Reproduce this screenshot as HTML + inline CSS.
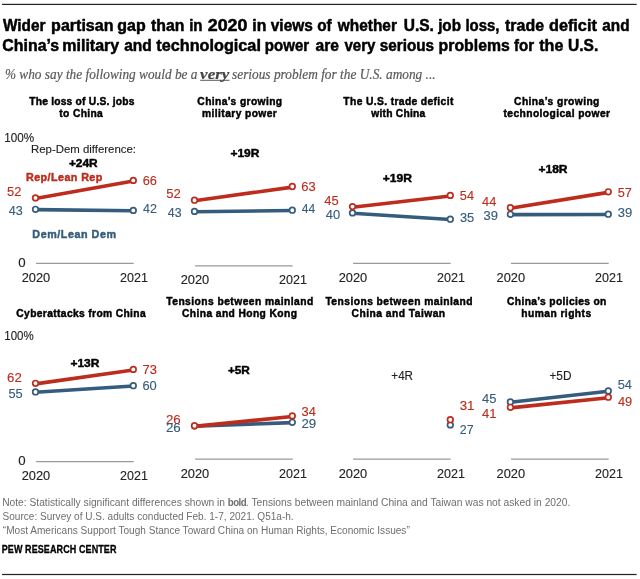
<!DOCTYPE html>
<html><head><meta charset="utf-8"><style>html,body{margin:0;padding:0;background:#fff;width:640px;height:579px;overflow:hidden}svg{display:block;will-change:transform}</style></head>
<body><svg width="640" height="579" viewBox="0 0 640 579">
<rect width="640" height="579" fill="#ffffff"/>
<rect x="2" y="3.8" width="634.6" height="1.2" fill="#222222"/>
<rect x="2" y="573.9" width="634.6" height="1.2" fill="#222222"/>
<rect x="200.2" y="79.8" width="29.4" height="0.9" fill="#444444"/>
<line x1="36.1" y1="263.3" x2="133.70000000000002" y2="263.3" stroke="#9a9a9a" stroke-width="1.2"/>
<line x1="195.1" y1="265.9" x2="292.7" y2="265.9" stroke="#9a9a9a" stroke-width="1.2"/>
<line x1="353.1" y1="263.3" x2="450.7" y2="263.3" stroke="#9a9a9a" stroke-width="1.2"/>
<line x1="511.0" y1="263.3" x2="608.6999999999999" y2="263.3" stroke="#9a9a9a" stroke-width="1.2"/>
<line x1="36.1" y1="461.6" x2="133.70000000000002" y2="461.6" stroke="#9a9a9a" stroke-width="1.2"/>
<line x1="195.1" y1="459.1" x2="292.7" y2="459.1" stroke="#9a9a9a" stroke-width="1.2"/>
<line x1="353.1" y1="459.1" x2="450.7" y2="459.1" stroke="#9a9a9a" stroke-width="1.2"/>
<line x1="511.0" y1="459.1" x2="608.6999999999999" y2="459.1" stroke="#9a9a9a" stroke-width="1.2"/>
<line x1="35.5" y1="209.60" x2="133.3" y2="210.70" stroke="#355c7d" stroke-width="3.6"/>
<circle cx="35.5" cy="209.3" r="2.8" fill="#ffffff" stroke="#355c7d" stroke-width="1.7"/>
<circle cx="133.3" cy="210.4" r="2.8" fill="#ffffff" stroke="#355c7d" stroke-width="1.7"/>
<line x1="35.5" y1="198.50" x2="133.3" y2="181.00" stroke="#bd2c1c" stroke-width="3.6"/>
<circle cx="35.5" cy="197.9" r="2.8" fill="#ffffff" stroke="#bd2c1c" stroke-width="1.7"/>
<circle cx="133.3" cy="180.4" r="2.8" fill="#ffffff" stroke="#bd2c1c" stroke-width="1.7"/>
<line x1="194.5" y1="211.70" x2="292.3" y2="210.50" stroke="#355c7d" stroke-width="3.6"/>
<circle cx="194.5" cy="211.4" r="2.8" fill="#ffffff" stroke="#355c7d" stroke-width="1.7"/>
<circle cx="292.3" cy="210.2" r="2.8" fill="#ffffff" stroke="#355c7d" stroke-width="1.7"/>
<line x1="194.5" y1="200.80" x2="292.3" y2="187.10" stroke="#bd2c1c" stroke-width="3.6"/>
<circle cx="194.5" cy="200.2" r="2.8" fill="#ffffff" stroke="#bd2c1c" stroke-width="1.7"/>
<circle cx="292.3" cy="186.5" r="2.8" fill="#ffffff" stroke="#bd2c1c" stroke-width="1.7"/>
<line x1="352.5" y1="213.20" x2="450.3" y2="219.50" stroke="#355c7d" stroke-width="3.6"/>
<circle cx="352.5" cy="212.9" r="2.8" fill="#ffffff" stroke="#355c7d" stroke-width="1.7"/>
<circle cx="450.3" cy="219.2" r="2.8" fill="#ffffff" stroke="#355c7d" stroke-width="1.7"/>
<line x1="352.5" y1="207.20" x2="450.3" y2="196.00" stroke="#bd2c1c" stroke-width="3.6"/>
<circle cx="352.5" cy="206.6" r="2.8" fill="#ffffff" stroke="#bd2c1c" stroke-width="1.7"/>
<circle cx="450.3" cy="195.4" r="2.8" fill="#ffffff" stroke="#bd2c1c" stroke-width="1.7"/>
<line x1="510.4" y1="214.60" x2="608.3" y2="214.50" stroke="#355c7d" stroke-width="3.6"/>
<circle cx="510.4" cy="214.3" r="2.8" fill="#ffffff" stroke="#355c7d" stroke-width="1.7"/>
<circle cx="608.3" cy="214.2" r="2.8" fill="#ffffff" stroke="#355c7d" stroke-width="1.7"/>
<line x1="510.4" y1="208.30" x2="608.3" y2="192.40" stroke="#bd2c1c" stroke-width="3.6"/>
<circle cx="510.4" cy="207.7" r="2.8" fill="#ffffff" stroke="#bd2c1c" stroke-width="1.7"/>
<circle cx="608.3" cy="191.8" r="2.8" fill="#ffffff" stroke="#bd2c1c" stroke-width="1.7"/>
<line x1="35.5" y1="392.25" x2="133.3" y2="386.00" stroke="#355c7d" stroke-width="3.6"/>
<circle cx="35.5" cy="391.95" r="2.8" fill="#ffffff" stroke="#355c7d" stroke-width="1.7"/>
<circle cx="133.3" cy="385.7" r="2.8" fill="#ffffff" stroke="#355c7d" stroke-width="1.7"/>
<line x1="35.5" y1="383.90" x2="133.3" y2="370.00" stroke="#bd2c1c" stroke-width="3.6"/>
<circle cx="35.5" cy="383.3" r="2.8" fill="#ffffff" stroke="#bd2c1c" stroke-width="1.7"/>
<circle cx="133.3" cy="369.4" r="2.8" fill="#ffffff" stroke="#bd2c1c" stroke-width="1.7"/>
<line x1="194.5" y1="426.10" x2="292.3" y2="422.60" stroke="#355c7d" stroke-width="3.6"/>
<circle cx="194.5" cy="425.8" r="2.8" fill="#ffffff" stroke="#355c7d" stroke-width="1.7"/>
<circle cx="292.3" cy="422.3" r="2.8" fill="#ffffff" stroke="#355c7d" stroke-width="1.7"/>
<line x1="194.5" y1="426.40" x2="292.3" y2="416.50" stroke="#bd2c1c" stroke-width="3.6"/>
<circle cx="194.5" cy="425.8" r="2.8" fill="#ffffff" stroke="#bd2c1c" stroke-width="1.7"/>
<circle cx="292.3" cy="415.9" r="2.8" fill="#ffffff" stroke="#bd2c1c" stroke-width="1.7"/>
<circle cx="450.3" cy="424.9" r="2.8" fill="#ffffff" stroke="#355c7d" stroke-width="1.7"/>
<circle cx="450.3" cy="419.7" r="2.8" fill="#ffffff" stroke="#bd2c1c" stroke-width="1.7"/>
<line x1="510.4" y1="402.25" x2="608.3" y2="391.30" stroke="#355c7d" stroke-width="3.6"/>
<circle cx="510.4" cy="401.95" r="2.8" fill="#ffffff" stroke="#355c7d" stroke-width="1.7"/>
<circle cx="608.3" cy="391.0" r="2.8" fill="#ffffff" stroke="#355c7d" stroke-width="1.7"/>
<line x1="510.4" y1="407.90" x2="608.3" y2="397.80" stroke="#bd2c1c" stroke-width="3.6"/>
<circle cx="510.4" cy="407.3" r="2.8" fill="#ffffff" stroke="#bd2c1c" stroke-width="1.7"/>
<circle cx="608.3" cy="397.2" r="2.8" fill="#ffffff" stroke="#bd2c1c" stroke-width="1.7"/>
<text x="2.98" y="30.60" textLength="42.60" lengthAdjust="spacingAndGlyphs" style="font-family:'Liberation Sans';font-size:16.5px;font-weight:bold;font-style:normal;fill:#000000;stroke:#000000;stroke-width:0.5px;stroke-linejoin:round">Wider</text>
<text x="51.09" y="30.60" textLength="62.40" lengthAdjust="spacingAndGlyphs" style="font-family:'Liberation Sans';font-size:16.5px;font-weight:bold;font-style:normal;fill:#000000;stroke:#000000;stroke-width:0.5px;stroke-linejoin:round">partisan</text>
<text x="117.35" y="30.60" textLength="28.31" lengthAdjust="spacingAndGlyphs" style="font-family:'Liberation Sans';font-size:16.5px;font-weight:bold;font-style:normal;fill:#000000;stroke:#000000;stroke-width:0.5px;stroke-linejoin:round">gap</text>
<text x="151.06" y="30.60" textLength="33.43" lengthAdjust="spacingAndGlyphs" style="font-family:'Liberation Sans';font-size:16.5px;font-weight:bold;font-style:normal;fill:#000000;stroke:#000000;stroke-width:0.5px;stroke-linejoin:round">than</text>
<text x="189.20" y="30.60" textLength="13.39" lengthAdjust="spacingAndGlyphs" style="font-family:'Liberation Sans';font-size:16.5px;font-weight:bold;font-style:normal;fill:#000000;stroke:#000000;stroke-width:0.5px;stroke-linejoin:round">in</text>
<text x="207.73" y="30.60" textLength="39.65" lengthAdjust="spacingAndGlyphs" style="font-family:'Liberation Sans';font-size:16.5px;font-weight:bold;font-style:normal;fill:#000000;stroke:#000000;stroke-width:0.5px;stroke-linejoin:round">2020</text>
<text x="252.24" y="30.60" textLength="14.09" lengthAdjust="spacingAndGlyphs" style="font-family:'Liberation Sans';font-size:16.5px;font-weight:bold;font-style:normal;fill:#000000;stroke:#000000;stroke-width:0.5px;stroke-linejoin:round">in</text>
<text x="270.79" y="30.60" textLength="42.09" lengthAdjust="spacingAndGlyphs" style="font-family:'Liberation Sans';font-size:16.5px;font-weight:bold;font-style:normal;fill:#000000;stroke:#000000;stroke-width:0.5px;stroke-linejoin:round">views</text>
<text x="317.15" y="30.60" textLength="14.47" lengthAdjust="spacingAndGlyphs" style="font-family:'Liberation Sans';font-size:16.5px;font-weight:bold;font-style:normal;fill:#000000;stroke:#000000;stroke-width:0.5px;stroke-linejoin:round">of</text>
<text x="337.80" y="30.60" textLength="59.09" lengthAdjust="spacingAndGlyphs" style="font-family:'Liberation Sans';font-size:16.5px;font-weight:bold;font-style:normal;fill:#000000;stroke:#000000;stroke-width:0.5px;stroke-linejoin:round">whether</text>
<text x="403.72" y="30.60" textLength="30.20" lengthAdjust="spacingAndGlyphs" style="font-family:'Liberation Sans';font-size:16.5px;font-weight:bold;font-style:normal;fill:#000000;stroke:#000000;stroke-width:0.5px;stroke-linejoin:round">U.S.</text>
<text x="438.14" y="30.60" textLength="22.84" lengthAdjust="spacingAndGlyphs" style="font-family:'Liberation Sans';font-size:16.5px;font-weight:bold;font-style:normal;fill:#000000;stroke:#000000;stroke-width:0.5px;stroke-linejoin:round">job</text>
<text x="465.41" y="30.60" textLength="34.10" lengthAdjust="spacingAndGlyphs" style="font-family:'Liberation Sans';font-size:16.5px;font-weight:bold;font-style:normal;fill:#000000;stroke:#000000;stroke-width:0.5px;stroke-linejoin:round">loss,</text>
<text x="505.06" y="30.60" textLength="38.99" lengthAdjust="spacingAndGlyphs" style="font-family:'Liberation Sans';font-size:16.5px;font-weight:bold;font-style:normal;fill:#000000;stroke:#000000;stroke-width:0.5px;stroke-linejoin:round">trade</text>
<text x="548.98" y="30.60" textLength="47.87" lengthAdjust="spacingAndGlyphs" style="font-family:'Liberation Sans';font-size:16.5px;font-weight:bold;font-style:normal;fill:#000000;stroke:#000000;stroke-width:0.5px;stroke-linejoin:round">deficit</text>
<text x="602.30" y="30.60" textLength="27.21" lengthAdjust="spacingAndGlyphs" style="font-family:'Liberation Sans';font-size:16.5px;font-weight:bold;font-style:normal;fill:#000000;stroke:#000000;stroke-width:0.5px;stroke-linejoin:round">and</text>
<text x="2.35" y="50.50" textLength="56.80" lengthAdjust="spacingAndGlyphs" style="font-family:'Liberation Sans';font-size:16.5px;font-weight:bold;font-style:normal;fill:#000000;stroke:#000000;stroke-width:0.5px;stroke-linejoin:round">China’s</text>
<text x="62.29" y="50.50" textLength="56.94" lengthAdjust="spacingAndGlyphs" style="font-family:'Liberation Sans';font-size:16.5px;font-weight:bold;font-style:normal;fill:#000000;stroke:#000000;stroke-width:0.5px;stroke-linejoin:round">military</text>
<text x="124.20" y="50.50" textLength="27.58" lengthAdjust="spacingAndGlyphs" style="font-family:'Liberation Sans';font-size:16.5px;font-weight:bold;font-style:normal;fill:#000000;stroke:#000000;stroke-width:0.5px;stroke-linejoin:round">and</text>
<text x="156.30" y="50.50" textLength="104.60" lengthAdjust="spacingAndGlyphs" style="font-family:'Liberation Sans';font-size:16.5px;font-weight:bold;font-style:normal;fill:#000000;stroke:#000000;stroke-width:0.5px;stroke-linejoin:round">technological</text>
<text x="264.86" y="50.50" textLength="44.32" lengthAdjust="spacingAndGlyphs" style="font-family:'Liberation Sans';font-size:16.5px;font-weight:bold;font-style:normal;fill:#000000;stroke:#000000;stroke-width:0.5px;stroke-linejoin:round">power</text>
<text x="315.59" y="50.50" textLength="23.44" lengthAdjust="spacingAndGlyphs" style="font-family:'Liberation Sans';font-size:16.5px;font-weight:bold;font-style:normal;fill:#000000;stroke:#000000;stroke-width:0.5px;stroke-linejoin:round">are</text>
<text x="344.39" y="50.50" textLength="31.04" lengthAdjust="spacingAndGlyphs" style="font-family:'Liberation Sans';font-size:16.5px;font-weight:bold;font-style:normal;fill:#000000;stroke:#000000;stroke-width:0.5px;stroke-linejoin:round">very</text>
<text x="379.71" y="50.50" textLength="54.42" lengthAdjust="spacingAndGlyphs" style="font-family:'Liberation Sans';font-size:16.5px;font-weight:bold;font-style:normal;fill:#000000;stroke:#000000;stroke-width:0.5px;stroke-linejoin:round">serious</text>
<text x="438.61" y="50.50" textLength="71.19" lengthAdjust="spacingAndGlyphs" style="font-family:'Liberation Sans';font-size:16.5px;font-weight:bold;font-style:normal;fill:#000000;stroke:#000000;stroke-width:0.5px;stroke-linejoin:round">problems</text>
<text x="514.09" y="50.50" textLength="20.09" lengthAdjust="spacingAndGlyphs" style="font-family:'Liberation Sans';font-size:16.5px;font-weight:bold;font-style:normal;fill:#000000;stroke:#000000;stroke-width:0.5px;stroke-linejoin:round">for</text>
<text x="539.25" y="50.50" textLength="24.15" lengthAdjust="spacingAndGlyphs" style="font-family:'Liberation Sans';font-size:16.5px;font-weight:bold;font-style:normal;fill:#000000;stroke:#000000;stroke-width:0.5px;stroke-linejoin:round">the</text>
<text x="568.07" y="50.50" textLength="30.26" lengthAdjust="spacingAndGlyphs" style="font-family:'Liberation Sans';font-size:16.5px;font-weight:bold;font-style:normal;fill:#000000;stroke:#000000;stroke-width:0.5px;stroke-linejoin:round">U.S.</text>
<text x="4.94" y="78.75" textLength="192.56" lengthAdjust="spacingAndGlyphs" style="font-family:'Liberation Serif';font-size:14.2px;font-weight:normal;font-style:italic;fill:#5a5a5a;stroke:#5a5a5a;stroke-width:0.2px;stroke-linejoin:round">% who say the following would be a</text>
<text x="200.14" y="78.75" textLength="29.21" lengthAdjust="spacingAndGlyphs" style="font-family:'Liberation Serif';font-size:14.2px;font-weight:bold;font-style:italic;fill:#444444;stroke:#444444;stroke-width:0.2px;stroke-linejoin:round">very</text>
<text x="232.04" y="78.75" textLength="203.57" lengthAdjust="spacingAndGlyphs" style="font-family:'Liberation Serif';font-size:14.2px;font-weight:normal;font-style:italic;fill:#5a5a5a;stroke:#5a5a5a;stroke-width:0.2px;stroke-linejoin:round">serious problem for the U.S. among ...</text>
<text transform="scale(0.97,1)" x="30.09" y="104.80" textLength="108.49" lengthAdjust="spacing" style="font-family:'Liberation Sans';font-size:10.6px;font-weight:bold;font-style:normal;fill:#000000;stroke:#000000;stroke-width:0.45px;stroke-linejoin:round">The loss of U.S. jobs</text>
<text transform="scale(0.97,1)" x="61.11" y="116.70" textLength="44.91" lengthAdjust="spacing" style="font-family:'Liberation Sans';font-size:10.6px;font-weight:bold;font-style:normal;fill:#000000;stroke:#000000;stroke-width:0.45px;stroke-linejoin:round">to China</text>
<text transform="scale(0.97,1)" x="203.48" y="104.80" textLength="87.33" lengthAdjust="spacing" style="font-family:'Liberation Sans';font-size:10.6px;font-weight:bold;font-style:normal;fill:#000000;stroke:#000000;stroke-width:0.45px;stroke-linejoin:round">China’s growing</text>
<text transform="scale(0.97,1)" x="208.37" y="116.70" textLength="77.04" lengthAdjust="spacing" style="font-family:'Liberation Sans';font-size:10.6px;font-weight:bold;font-style:normal;fill:#000000;stroke:#000000;stroke-width:0.45px;stroke-linejoin:round">military power</text>
<text transform="scale(0.97,1)" x="354.00" y="104.80" textLength="113.34" lengthAdjust="spacing" style="font-family:'Liberation Sans';font-size:10.6px;font-weight:bold;font-style:normal;fill:#000000;stroke:#000000;stroke-width:0.45px;stroke-linejoin:round">The U.S. trade deficit</text>
<text transform="scale(0.97,1)" x="382.71" y="116.70" textLength="55.78" lengthAdjust="spacing" style="font-family:'Liberation Sans';font-size:10.6px;font-weight:bold;font-style:normal;fill:#000000;stroke:#000000;stroke-width:0.45px;stroke-linejoin:round">with China</text>
<text transform="scale(0.97,1)" x="529.98" y="104.80" textLength="87.95" lengthAdjust="spacing" style="font-family:'Liberation Sans';font-size:10.6px;font-weight:bold;font-style:normal;fill:#000000;stroke:#000000;stroke-width:0.45px;stroke-linejoin:round">China’s growing</text>
<text transform="scale(0.97,1)" x="519.05" y="116.70" textLength="109.88" lengthAdjust="spacing" style="font-family:'Liberation Sans';font-size:10.6px;font-weight:bold;font-style:normal;fill:#000000;stroke:#000000;stroke-width:0.45px;stroke-linejoin:round">technological power</text>
<text transform="scale(0.97,1)" x="16.83" y="317.00" textLength="133.36" lengthAdjust="spacing" style="font-family:'Liberation Sans';font-size:10.6px;font-weight:bold;font-style:normal;fill:#000000;stroke:#000000;stroke-width:0.45px;stroke-linejoin:round">Cyberattacks from China</text>
<text transform="scale(0.97,1)" x="171.43" y="305.00" textLength="151.44" lengthAdjust="spacing" style="font-family:'Liberation Sans';font-size:10.6px;font-weight:bold;font-style:normal;fill:#000000;stroke:#000000;stroke-width:0.45px;stroke-linejoin:round">Tensions between mainland</text>
<text transform="scale(0.97,1)" x="187.71" y="317.10" textLength="118.41" lengthAdjust="spacing" style="font-family:'Liberation Sans';font-size:10.6px;font-weight:bold;font-style:normal;fill:#000000;stroke:#000000;stroke-width:0.45px;stroke-linejoin:round">China and Hong Kong</text>
<text transform="scale(0.97,1)" x="335.45" y="305.00" textLength="151.59" lengthAdjust="spacing" style="font-family:'Liberation Sans';font-size:10.6px;font-weight:bold;font-style:normal;fill:#000000;stroke:#000000;stroke-width:0.45px;stroke-linejoin:round">Tensions between mainland</text>
<text transform="scale(0.97,1)" x="362.45" y="317.10" textLength="96.45" lengthAdjust="spacing" style="font-family:'Liberation Sans';font-size:10.6px;font-weight:bold;font-style:normal;fill:#000000;stroke:#000000;stroke-width:0.45px;stroke-linejoin:round">China and Taiwan</text>
<text transform="scale(0.97,1)" x="522.76" y="305.00" textLength="102.38" lengthAdjust="spacing" style="font-family:'Liberation Sans';font-size:10.6px;font-weight:bold;font-style:normal;fill:#000000;stroke:#000000;stroke-width:0.45px;stroke-linejoin:round">China’s policies on</text>
<text transform="scale(0.97,1)" x="537.40" y="317.10" textLength="72.05" lengthAdjust="spacing" style="font-family:'Liberation Sans';font-size:10.6px;font-weight:bold;font-style:normal;fill:#000000;stroke:#000000;stroke-width:0.45px;stroke-linejoin:round">human rights</text>
<text x="4.31" y="142.10" textLength="29.86" lengthAdjust="spacingAndGlyphs" style="font-family:'Liberation Sans';font-size:12px;font-weight:normal;font-style:normal;fill:#222222;stroke:#222222;stroke-width:0.12px;stroke-linejoin:round">100%</text>
<text x="18.23" y="266.70" textLength="7.39" lengthAdjust="spacingAndGlyphs" style="font-family:'Liberation Sans';font-size:12px;font-weight:normal;font-style:normal;fill:#222222;stroke:#222222;stroke-width:0.12px;stroke-linejoin:round">0</text>
<text x="4.32" y="339.70" textLength="29.38" lengthAdjust="spacingAndGlyphs" style="font-family:'Liberation Sans';font-size:12px;font-weight:normal;font-style:normal;fill:#222222;stroke:#222222;stroke-width:0.12px;stroke-linejoin:round">100%</text>
<text x="18.23" y="464.80" textLength="7.39" lengthAdjust="spacingAndGlyphs" style="font-family:'Liberation Sans';font-size:12px;font-weight:normal;font-style:normal;fill:#222222;stroke:#222222;stroke-width:0.12px;stroke-linejoin:round">0</text>
<text x="30.96" y="152.50" textLength="105.08" lengthAdjust="spacingAndGlyphs" style="font-family:'Liberation Sans';font-size:11px;font-weight:normal;font-style:normal;fill:#222222;stroke:#222222;stroke-width:0.12px;stroke-linejoin:round">Rep-Dem difference:</text>
<text transform="scale(0.96,1)" x="27.12" y="180.75" textLength="79.49" lengthAdjust="spacing" style="font-family:'Liberation Sans';font-size:11.2px;font-weight:bold;font-style:normal;fill:#bd2c1c;stroke:#bd2c1c;stroke-width:0.45px;stroke-linejoin:round">Rep/Lean Rep</text>
<text transform="scale(0.96,1)" x="33.73" y="237.60" textLength="87.07" lengthAdjust="spacing" style="font-family:'Liberation Sans';font-size:11.2px;font-weight:bold;font-style:normal;fill:#355c7d;stroke:#355c7d;stroke-width:0.45px;stroke-linejoin:round">Dem/Lean Dem</text>
<text x="68.90" y="166.50" textLength="28.85" lengthAdjust="spacingAndGlyphs" style="font-family:'Liberation Sans';font-size:11px;font-weight:bold;font-style:normal;fill:#000000;stroke:#000000;stroke-width:0.45px;stroke-linejoin:round">+24R</text>
<text x="230.40" y="156.80" textLength="28.95" lengthAdjust="spacingAndGlyphs" style="font-family:'Liberation Sans';font-size:11px;font-weight:bold;font-style:normal;fill:#000000;stroke:#000000;stroke-width:0.45px;stroke-linejoin:round">+19R</text>
<text x="382.69" y="181.60" textLength="29.15" lengthAdjust="spacingAndGlyphs" style="font-family:'Liberation Sans';font-size:11px;font-weight:bold;font-style:normal;fill:#000000;stroke:#000000;stroke-width:0.45px;stroke-linejoin:round">+19R</text>
<text x="538.50" y="173.10" textLength="29.05" lengthAdjust="spacingAndGlyphs" style="font-family:'Liberation Sans';font-size:11px;font-weight:bold;font-style:normal;fill:#000000;stroke:#000000;stroke-width:0.45px;stroke-linejoin:round">+18R</text>
<text x="70.40" y="366.70" textLength="28.95" lengthAdjust="spacingAndGlyphs" style="font-family:'Liberation Sans';font-size:11px;font-weight:bold;font-style:normal;fill:#000000;stroke:#000000;stroke-width:0.45px;stroke-linejoin:round">+13R</text>
<text x="227.90" y="374.10" textLength="22.04" lengthAdjust="spacingAndGlyphs" style="font-family:'Liberation Sans';font-size:11px;font-weight:bold;font-style:normal;fill:#000000;stroke:#000000;stroke-width:0.45px;stroke-linejoin:round">+5R</text>
<text x="391.33" y="379.70" textLength="21.71" lengthAdjust="spacingAndGlyphs" style="font-family:'Liberation Sans';font-size:12px;font-weight:normal;font-style:normal;fill:#222222;stroke:#222222;stroke-width:0.12px;stroke-linejoin:round">+4R</text>
<text x="549.42" y="379.50" textLength="22.04" lengthAdjust="spacingAndGlyphs" style="font-family:'Liberation Sans';font-size:12px;font-weight:normal;font-style:normal;fill:#222222;stroke:#222222;stroke-width:0.12px;stroke-linejoin:round">+5D</text>
<text x="6.98" y="195.90" textLength="14.37" lengthAdjust="spacingAndGlyphs" style="font-family:'Liberation Sans';font-size:12px;font-weight:normal;font-style:normal;fill:#bd2c1c;stroke:#bd2c1c;stroke-width:0.12px;stroke-linejoin:round">52</text>
<text x="8.71" y="214.50" textLength="14.04" lengthAdjust="spacingAndGlyphs" style="font-family:'Liberation Sans';font-size:12px;font-weight:normal;font-style:normal;fill:#355c7d;stroke:#355c7d;stroke-width:0.12px;stroke-linejoin:round">43</text>
<text x="142.65" y="185.10" textLength="14.21" lengthAdjust="spacingAndGlyphs" style="font-family:'Liberation Sans';font-size:12px;font-weight:normal;font-style:normal;fill:#bd2c1c;stroke:#bd2c1c;stroke-width:0.12px;stroke-linejoin:round">66</text>
<text x="143.01" y="213.20" textLength="13.92" lengthAdjust="spacingAndGlyphs" style="font-family:'Liberation Sans';font-size:12px;font-weight:normal;font-style:normal;fill:#355c7d;stroke:#355c7d;stroke-width:0.12px;stroke-linejoin:round">42</text>
<text x="166.28" y="198.30" textLength="14.58" lengthAdjust="spacingAndGlyphs" style="font-family:'Liberation Sans';font-size:12px;font-weight:normal;font-style:normal;fill:#bd2c1c;stroke:#bd2c1c;stroke-width:0.12px;stroke-linejoin:round">52</text>
<text x="167.87" y="217.00" textLength="13.78" lengthAdjust="spacingAndGlyphs" style="font-family:'Liberation Sans';font-size:12px;font-weight:normal;font-style:normal;fill:#355c7d;stroke:#355c7d;stroke-width:0.12px;stroke-linejoin:round">43</text>
<text x="301.34" y="191.20" textLength="14.43" lengthAdjust="spacingAndGlyphs" style="font-family:'Liberation Sans';font-size:12px;font-weight:normal;font-style:normal;fill:#bd2c1c;stroke:#bd2c1c;stroke-width:0.12px;stroke-linejoin:round">63</text>
<text x="301.82" y="213.30" textLength="13.43" lengthAdjust="spacingAndGlyphs" style="font-family:'Liberation Sans';font-size:12px;font-weight:normal;font-style:normal;fill:#355c7d;stroke:#355c7d;stroke-width:0.12px;stroke-linejoin:round">44</text>
<text x="324.20" y="204.60" textLength="14.44" lengthAdjust="spacingAndGlyphs" style="font-family:'Liberation Sans';font-size:12px;font-weight:normal;font-style:normal;fill:#bd2c1c;stroke:#bd2c1c;stroke-width:0.12px;stroke-linejoin:round">45</text>
<text x="325.80" y="218.50" textLength="14.40" lengthAdjust="spacingAndGlyphs" style="font-family:'Liberation Sans';font-size:12px;font-weight:normal;font-style:normal;fill:#355c7d;stroke:#355c7d;stroke-width:0.12px;stroke-linejoin:round">40</text>
<text x="459.89" y="199.85" textLength="14.18" lengthAdjust="spacingAndGlyphs" style="font-family:'Liberation Sans';font-size:12px;font-weight:normal;font-style:normal;fill:#bd2c1c;stroke:#bd2c1c;stroke-width:0.12px;stroke-linejoin:round">54</text>
<text x="459.91" y="222.30" textLength="14.33" lengthAdjust="spacingAndGlyphs" style="font-family:'Liberation Sans';font-size:12px;font-weight:normal;font-style:normal;fill:#355c7d;stroke:#355c7d;stroke-width:0.12px;stroke-linejoin:round">35</text>
<text x="482.11" y="205.50" textLength="14.27" lengthAdjust="spacingAndGlyphs" style="font-family:'Liberation Sans';font-size:12px;font-weight:normal;font-style:normal;fill:#bd2c1c;stroke:#bd2c1c;stroke-width:0.12px;stroke-linejoin:round">44</text>
<text x="483.51" y="219.70" textLength="14.41" lengthAdjust="spacingAndGlyphs" style="font-family:'Liberation Sans';font-size:12px;font-weight:normal;font-style:normal;fill:#355c7d;stroke:#355c7d;stroke-width:0.12px;stroke-linejoin:round">39</text>
<text x="617.69" y="196.60" textLength="14.15" lengthAdjust="spacingAndGlyphs" style="font-family:'Liberation Sans';font-size:12px;font-weight:normal;font-style:normal;fill:#bd2c1c;stroke:#bd2c1c;stroke-width:0.12px;stroke-linejoin:round">57</text>
<text x="617.70" y="217.30" textLength="14.52" lengthAdjust="spacingAndGlyphs" style="font-family:'Liberation Sans';font-size:12px;font-weight:normal;font-style:normal;fill:#355c7d;stroke:#355c7d;stroke-width:0.12px;stroke-linejoin:round">39</text>
<text x="7.03" y="381.60" textLength="14.74" lengthAdjust="spacingAndGlyphs" style="font-family:'Liberation Sans';font-size:12px;font-weight:normal;font-style:normal;fill:#bd2c1c;stroke:#bd2c1c;stroke-width:0.12px;stroke-linejoin:round">62</text>
<text x="8.49" y="397.50" textLength="14.25" lengthAdjust="spacingAndGlyphs" style="font-family:'Liberation Sans';font-size:12px;font-weight:normal;font-style:normal;fill:#355c7d;stroke:#355c7d;stroke-width:0.12px;stroke-linejoin:round">55</text>
<text x="142.43" y="374.30" textLength="14.44" lengthAdjust="spacingAndGlyphs" style="font-family:'Liberation Sans';font-size:12px;font-weight:normal;font-style:normal;fill:#bd2c1c;stroke:#bd2c1c;stroke-width:0.12px;stroke-linejoin:round">73</text>
<text x="142.44" y="389.90" textLength="14.36" lengthAdjust="spacingAndGlyphs" style="font-family:'Liberation Sans';font-size:12px;font-weight:normal;font-style:normal;fill:#355c7d;stroke:#355c7d;stroke-width:0.12px;stroke-linejoin:round">60</text>
<text x="165.93" y="423.80" textLength="14.86" lengthAdjust="spacingAndGlyphs" style="font-family:'Liberation Sans';font-size:12px;font-weight:normal;font-style:normal;fill:#bd2c1c;stroke:#bd2c1c;stroke-width:0.12px;stroke-linejoin:round">26</text>
<text x="165.93" y="431.60" textLength="14.86" lengthAdjust="spacingAndGlyphs" style="font-family:'Liberation Sans';font-size:12px;font-weight:normal;font-style:normal;fill:#355c7d;stroke:#355c7d;stroke-width:0.12px;stroke-linejoin:round">26</text>
<text x="301.61" y="415.50" textLength="14.37" lengthAdjust="spacingAndGlyphs" style="font-family:'Liberation Sans';font-size:12px;font-weight:normal;font-style:normal;fill:#bd2c1c;stroke:#bd2c1c;stroke-width:0.12px;stroke-linejoin:round">34</text>
<text x="301.43" y="428.00" textLength="14.80" lengthAdjust="spacingAndGlyphs" style="font-family:'Liberation Sans';font-size:12px;font-weight:normal;font-style:normal;fill:#355c7d;stroke:#355c7d;stroke-width:0.12px;stroke-linejoin:round">29</text>
<text x="459.69" y="410.40" textLength="14.86" lengthAdjust="spacingAndGlyphs" style="font-family:'Liberation Sans';font-size:12px;font-weight:normal;font-style:normal;fill:#bd2c1c;stroke:#bd2c1c;stroke-width:0.12px;stroke-linejoin:round">31</text>
<text x="459.88" y="433.70" textLength="13.74" lengthAdjust="spacingAndGlyphs" style="font-family:'Liberation Sans';font-size:12px;font-weight:normal;font-style:normal;fill:#355c7d;stroke:#355c7d;stroke-width:0.12px;stroke-linejoin:round">27</text>
<text x="482.10" y="403.30" textLength="14.44" lengthAdjust="spacingAndGlyphs" style="font-family:'Liberation Sans';font-size:12px;font-weight:normal;font-style:normal;fill:#355c7d;stroke:#355c7d;stroke-width:0.12px;stroke-linejoin:round">45</text>
<text x="482.10" y="418.20" textLength="14.54" lengthAdjust="spacingAndGlyphs" style="font-family:'Liberation Sans';font-size:12px;font-weight:normal;font-style:normal;fill:#bd2c1c;stroke:#bd2c1c;stroke-width:0.12px;stroke-linejoin:round">41</text>
<text x="617.69" y="389.20" textLength="14.29" lengthAdjust="spacingAndGlyphs" style="font-family:'Liberation Sans';font-size:12px;font-weight:normal;font-style:normal;fill:#355c7d;stroke:#355c7d;stroke-width:0.12px;stroke-linejoin:round">54</text>
<text x="617.90" y="406.10" textLength="14.30" lengthAdjust="spacingAndGlyphs" style="font-family:'Liberation Sans';font-size:12px;font-weight:normal;font-style:normal;fill:#bd2c1c;stroke:#bd2c1c;stroke-width:0.12px;stroke-linejoin:round">49</text>
<text x="21.65" y="281.50" textLength="28.55" lengthAdjust="spacingAndGlyphs" style="font-family:'Liberation Sans';font-size:12px;font-weight:normal;font-style:normal;fill:#222222;stroke:#222222;stroke-width:0.12px;stroke-linejoin:round">2020</text>
<text x="120.07" y="281.50" textLength="27.84" lengthAdjust="spacingAndGlyphs" style="font-family:'Liberation Sans';font-size:12px;font-weight:normal;font-style:normal;fill:#222222;stroke:#222222;stroke-width:0.12px;stroke-linejoin:round">2021</text>
<text x="180.65" y="284.10" textLength="28.55" lengthAdjust="spacingAndGlyphs" style="font-family:'Liberation Sans';font-size:12px;font-weight:normal;font-style:normal;fill:#222222;stroke:#222222;stroke-width:0.12px;stroke-linejoin:round">2020</text>
<text x="279.07" y="284.10" textLength="27.84" lengthAdjust="spacingAndGlyphs" style="font-family:'Liberation Sans';font-size:12px;font-weight:normal;font-style:normal;fill:#222222;stroke:#222222;stroke-width:0.12px;stroke-linejoin:round">2021</text>
<text x="338.65" y="281.50" textLength="28.55" lengthAdjust="spacingAndGlyphs" style="font-family:'Liberation Sans';font-size:12px;font-weight:normal;font-style:normal;fill:#222222;stroke:#222222;stroke-width:0.12px;stroke-linejoin:round">2020</text>
<text x="437.07" y="281.50" textLength="27.84" lengthAdjust="spacingAndGlyphs" style="font-family:'Liberation Sans';font-size:12px;font-weight:normal;font-style:normal;fill:#222222;stroke:#222222;stroke-width:0.12px;stroke-linejoin:round">2021</text>
<text x="496.55" y="281.50" textLength="28.55" lengthAdjust="spacingAndGlyphs" style="font-family:'Liberation Sans';font-size:12px;font-weight:normal;font-style:normal;fill:#222222;stroke:#222222;stroke-width:0.12px;stroke-linejoin:round">2020</text>
<text x="595.07" y="281.50" textLength="27.84" lengthAdjust="spacingAndGlyphs" style="font-family:'Liberation Sans';font-size:12px;font-weight:normal;font-style:normal;fill:#222222;stroke:#222222;stroke-width:0.12px;stroke-linejoin:round">2021</text>
<text x="21.65" y="479.80" textLength="28.55" lengthAdjust="spacingAndGlyphs" style="font-family:'Liberation Sans';font-size:12px;font-weight:normal;font-style:normal;fill:#222222;stroke:#222222;stroke-width:0.12px;stroke-linejoin:round">2020</text>
<text x="120.07" y="479.80" textLength="27.84" lengthAdjust="spacingAndGlyphs" style="font-family:'Liberation Sans';font-size:12px;font-weight:normal;font-style:normal;fill:#222222;stroke:#222222;stroke-width:0.12px;stroke-linejoin:round">2021</text>
<text x="180.65" y="477.50" textLength="28.55" lengthAdjust="spacingAndGlyphs" style="font-family:'Liberation Sans';font-size:12px;font-weight:normal;font-style:normal;fill:#222222;stroke:#222222;stroke-width:0.12px;stroke-linejoin:round">2020</text>
<text x="279.07" y="477.50" textLength="27.84" lengthAdjust="spacingAndGlyphs" style="font-family:'Liberation Sans';font-size:12px;font-weight:normal;font-style:normal;fill:#222222;stroke:#222222;stroke-width:0.12px;stroke-linejoin:round">2021</text>
<text x="338.65" y="477.50" textLength="28.55" lengthAdjust="spacingAndGlyphs" style="font-family:'Liberation Sans';font-size:12px;font-weight:normal;font-style:normal;fill:#222222;stroke:#222222;stroke-width:0.12px;stroke-linejoin:round">2020</text>
<text x="437.07" y="477.50" textLength="27.84" lengthAdjust="spacingAndGlyphs" style="font-family:'Liberation Sans';font-size:12px;font-weight:normal;font-style:normal;fill:#222222;stroke:#222222;stroke-width:0.12px;stroke-linejoin:round">2021</text>
<text x="496.55" y="477.50" textLength="28.55" lengthAdjust="spacingAndGlyphs" style="font-family:'Liberation Sans';font-size:12px;font-weight:normal;font-style:normal;fill:#222222;stroke:#222222;stroke-width:0.12px;stroke-linejoin:round">2020</text>
<text x="595.07" y="477.50" textLength="27.84" lengthAdjust="spacingAndGlyphs" style="font-family:'Liberation Sans';font-size:12px;font-weight:normal;font-style:normal;fill:#222222;stroke:#222222;stroke-width:0.12px;stroke-linejoin:round">2021</text>
<text x="2.16" y="505.80" textLength="222.90" lengthAdjust="spacingAndGlyphs" style="font-family:'Liberation Sans';font-size:10px;font-weight:normal;font-style:normal;fill:#6e6e6e">Note: Statistically significant differences shown in</text>
<text transform="scale(0.97,1)" x="234.91" y="505.80" textLength="19.36" lengthAdjust="spacing" style="font-family:'Liberation Sans';font-size:10px;font-weight:bold;font-style:normal;fill:#6e6e6e">bold</text>
<text x="245.86" y="505.80" textLength="324.47" lengthAdjust="spacingAndGlyphs" style="font-family:'Liberation Sans';font-size:10px;font-weight:normal;font-style:normal;fill:#6e6e6e">. Tensions between mainland China and Taiwan was not asked in 2020.</text>
<text x="2.54" y="519.60" textLength="291.12" lengthAdjust="spacingAndGlyphs" style="font-family:'Liberation Sans';font-size:10px;font-weight:normal;font-style:normal;fill:#6e6e6e">Source: Survey of U.S. adults conducted Feb. 1-7, 2021. Q51a-h.</text>
<text x="2.83" y="533.90" textLength="406.94" lengthAdjust="spacingAndGlyphs" style="font-family:'Liberation Sans';font-size:10px;font-weight:normal;font-style:normal;fill:#6e6e6e">“Most Americans Support Tough Stance Toward China on Human Rights, Economic Issues”</text>
<text transform="scale(0.9,1)" x="1.89" y="553.10" textLength="127.49" lengthAdjust="spacing" style="font-family:'Liberation Sans';font-size:10px;font-weight:bold;font-style:normal;fill:#000000;stroke:#000000;stroke-width:0.3px;stroke-linejoin:round">PEW RESEARCH CENTER</text>
</svg></body></html>
